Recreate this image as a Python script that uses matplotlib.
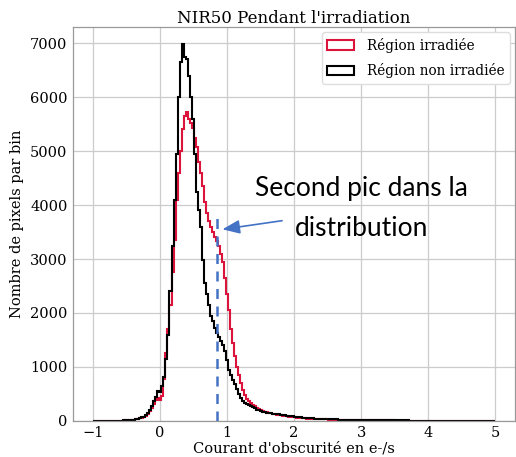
import numpy as np
import matplotlib
matplotlib.use("Agg")
import matplotlib.pyplot as plt

# Histogrammes du courant d'obscurité (200 bins de 0.03 e-/s entre -1 et 5)
BIN_MIN, BIN_MAX, N_BINS = -1.0, 5.0, 200

# Région irradiée
counts_irr = [
    0, 0, 0, 0, 1, 1, 1, 2, 2, 3, 3, 4, 4, 5, 6, 7,
    8, 10, 13, 17, 22, 27, 35, 45, 58, 72, 100, 135, 180, 240, 310, 380, 420,
    390, 470, 780, 1250, 1700, 2150, 2750, 3350, 4100, 4600,
    5000, 5400, 5650, 5720, 5600, 5520, 5430, 5250, 5080, 4800,
    4600, 4350, 4050, 3850, 3700, 3600, 3500, 3400, 3330, 3250,
    3100, 2950, 2650, 2350, 2050, 1700, 1450, 1200, 1000, 850,
    700, 570, 480, 410, 370, 330, 300, 270, 240, 220,
    200, 185, 170, 160, 150, 140, 130, 122, 115, 108,
    102, 96, 90, 85, 80, 75, 70,
    65, 60, 56, 52, 49, 46, 43, 40, 38, 36,
    34, 32, 30, 29, 28, 27, 26, 25, 24, 23,
    22, 21, 20, 19, 18, 18, 17, 16, 16, 15, 15, 14, 14,
    13, 13, 12, 12, 11, 11, 11, 10, 10, 10, 9, 9, 9, 8, 8, 8, 8,
    7, 7, 7, 7, 6, 6, 6, 6, 6, 5, 5, 5, 5, 5, 5, 5,
    4, 4, 4, 4, 4, 4, 4, 4, 4, 3, 3, 3, 3, 3, 3, 3, 3,
    3, 3, 3, 2, 2, 2, 2, 2, 2, 2, 2, 2, 2, 2, 1, 1, 1,
]

# Région non irradiée
counts_non_irr = [
    0, 0, 0, 1, 1, 1, 2, 2, 3, 3, 4, 4, 5, 6, 7, 8,
    10, 12, 15, 20, 25, 30, 40, 50, 65, 80, 110, 150, 200, 270, 360, 450, 560,
    540, 650, 820, 1150, 1600, 2400, 3250, 4100, 4950, 6000,
    6650, 6980, 6750, 6700, 6400, 6000, 5600, 4950, 4250, 3900,
    3600, 2980, 2550, 2350, 2150, 1950, 1850, 1720, 1620, 1550,
    1480, 1400, 1300, 1130, 950, 850, 760, 680, 590, 500,
    420, 360, 330, 310, 290, 270, 250, 230, 210, 195,
    180, 170, 160, 155, 150, 140, 135, 130, 125, 120,
    115, 110, 105, 100, 95, 90, 85,
    80, 75, 70, 66, 62, 58, 55, 52, 49, 46,
    44, 42, 40, 38, 36, 34, 32, 30, 29, 28,
    27, 26, 25, 24, 23, 22, 21, 20, 20, 19, 18, 18, 17,
    16, 16, 15, 15, 14, 14, 13, 13, 12, 12, 12, 11, 11, 10, 10, 10, 9,
    9, 9, 9, 8, 8, 8, 8, 7, 7, 7, 7, 7, 6, 6, 6, 6,
    6, 6, 5, 5, 5, 5, 5, 5, 4, 4, 4, 4, 4, 4, 4, 4, 3,
    3, 3, 3, 3, 3, 3, 3, 2, 2, 2, 2, 2, 2, 2, 2, 2, 2,
]

LABELS = ["Région irradiée", "Région non irradiée"]
COLORS = ["#dc143c", "black"]

# Position du second pic
PIC_X = 0.85
PIC_HAUTEUR = 3780
ANNOTATION = "Second pic dans la\ndistribution"

assert len(counts_irr) == N_BINS and len(counts_non_irr) == N_BINS

plt.rcParams["font.family"] = "DejaVu Serif"
plt.rcParams["font.size"] = 10.5

edges = np.linspace(BIN_MIN, BIN_MAX, N_BINS + 1)
centres = 0.5 * (edges[:-1] + edges[1:])

fig = plt.figure(figsize=(5.16, 4.57), dpi=100)
ax = fig.add_axes([0.1415, 0.079, 0.857, 0.862])

for counts, label, color in zip([counts_irr, counts_non_irr], LABELS, COLORS):
    ax.hist(centres, bins=edges, weights=counts, histtype="step",
            color=color, linewidth=1.5, label=label)

ax.vlines(PIC_X, 0, PIC_HAUTEUR, colors="#4472c4", linestyles=(0, (4, 3)),
          linewidth=1.8, zorder=3)

ax.annotate("", xy=(PIC_X + 0.08, 3550), xytext=(1.82, 3710),
            arrowprops=dict(arrowstyle="-|>,head_length=1.0,head_width=0.4",
                            color="#4472c4", lw=1.2, shrinkA=0, shrinkB=0))
ax.text(3.0, 3940, ANNOTATION, ha="center", va="center", family="Lato",
        fontsize=19, linespacing=1.75)

ax.set_title("NIR50 Pendant l'irradiation", fontsize=12, pad=3)
ax.set_xlabel("Courant d'obscurité en e-/s", labelpad=1)
ax.set_ylabel("Nombre de pixels par bin", labelpad=4)
ax.set_ylim(0, 7300)
ax.set_xlim(-1.3, 5.3)
ax.set_xticks(np.arange(-1, 6, 1))
ax.set_yticks(np.arange(0, 7001, 1000))

ax.grid(True, color="#cccccc", linewidth=0.9)
ax.set_axisbelow(True)
ax.tick_params(length=0, pad=4)
for spine in ax.spines.values():
    spine.set_color("#999999")
    spine.set_linewidth(0.9)

ax.legend(loc="upper right", fontsize=9.8, framealpha=1.0,
          edgecolor="#dddddd", borderaxespad=0.4, handlelength=2.0,
          labelspacing=0.75, handletextpad=0.9)

fig.savefig("out.png", dpi=100)
